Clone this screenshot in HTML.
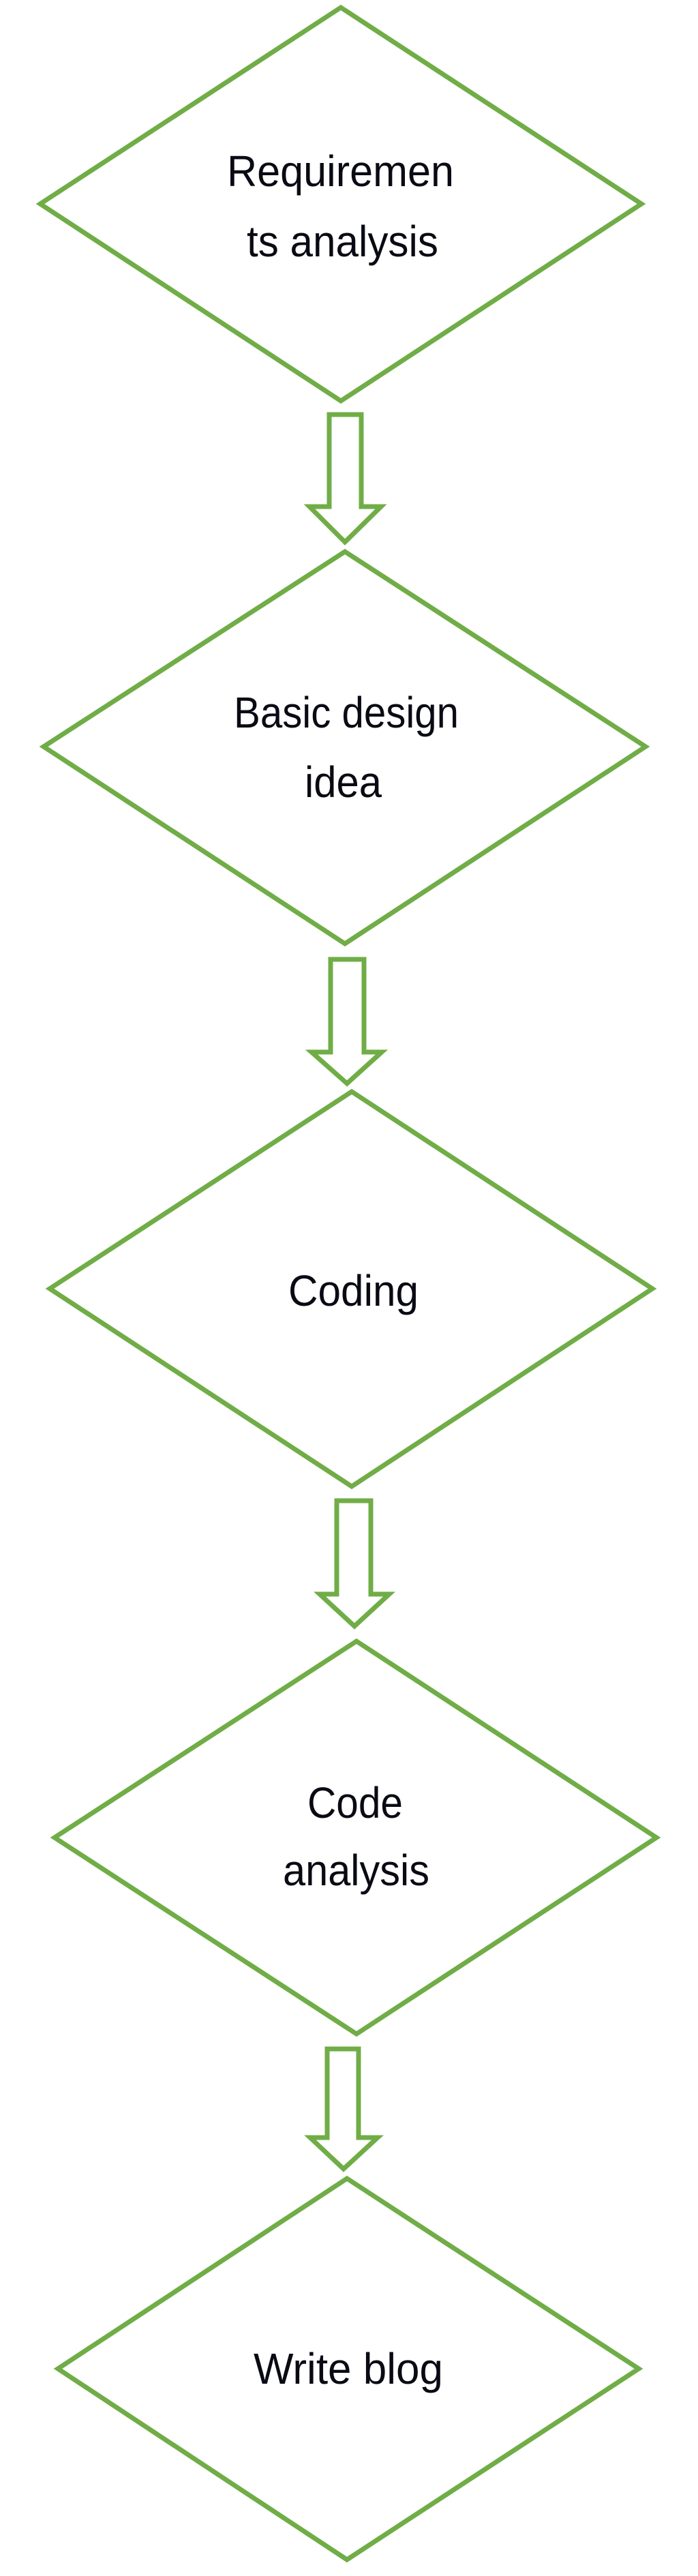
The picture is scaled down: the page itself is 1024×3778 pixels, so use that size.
<!DOCTYPE html>
<html><head><meta charset="utf-8"><style>
html,body{margin:0;padding:0;background:#fff;}
svg{display:block;}
text{font-family:"Liberation Sans",sans-serif;font-size:64px;fill:#0a0a14;}
</style></head><body>
<svg width="1024" height="3778" viewBox="0 0 1024 3778" xmlns="http://www.w3.org/2000/svg">
<g fill="none" stroke="#70ad47" stroke-width="7" stroke-linejoin="miter">
<polygon points="500,11 941,299 500,588 59,299"/>
<polygon points="483,608 530,608 530,743 559,743 506,795 454,743 483,743"/>
<polygon points="506,809 947,1095 506,1384 64,1095"/>
<polygon points="485,1407 534,1407 534,1543 560,1543 509,1589 457,1543 485,1543"/>
<polygon points="516,1601 957,1890 516,2180 73,1890"/>
<polygon points="494,2201 544,2201 544,2338 571,2338 520,2385 469,2338 494,2338"/>
<polygon points="523,2407 963,2695 523,2983 80,2695"/>
<polygon points="480,3005 526,3005 526,3135 554,3135 504,3181 455,3135 480,3135"/>
<polygon points="509,3195 937,3474 509,3754 85,3474"/>
</g>
<text x="333" y="273" textLength="333" lengthAdjust="spacingAndGlyphs">Requiremen</text>
<text x="362" y="376" textLength="281" lengthAdjust="spacingAndGlyphs">ts analysis</text>
<text x="343" y="1067" textLength="330" lengthAdjust="spacingAndGlyphs">Basic design</text>
<text x="447" y="1169" textLength="113" lengthAdjust="spacingAndGlyphs">idea</text>
<text x="423" y="1915" textLength="191" lengthAdjust="spacingAndGlyphs">Coding</text>
<text x="451" y="2666" textLength="140" lengthAdjust="spacingAndGlyphs">Code</text>
<text x="415" y="2765" textLength="215" lengthAdjust="spacingAndGlyphs">analysis</text>
<text x="372" y="3496" textLength="278" lengthAdjust="spacingAndGlyphs">Write blog</text>
</svg>
</body></html>
